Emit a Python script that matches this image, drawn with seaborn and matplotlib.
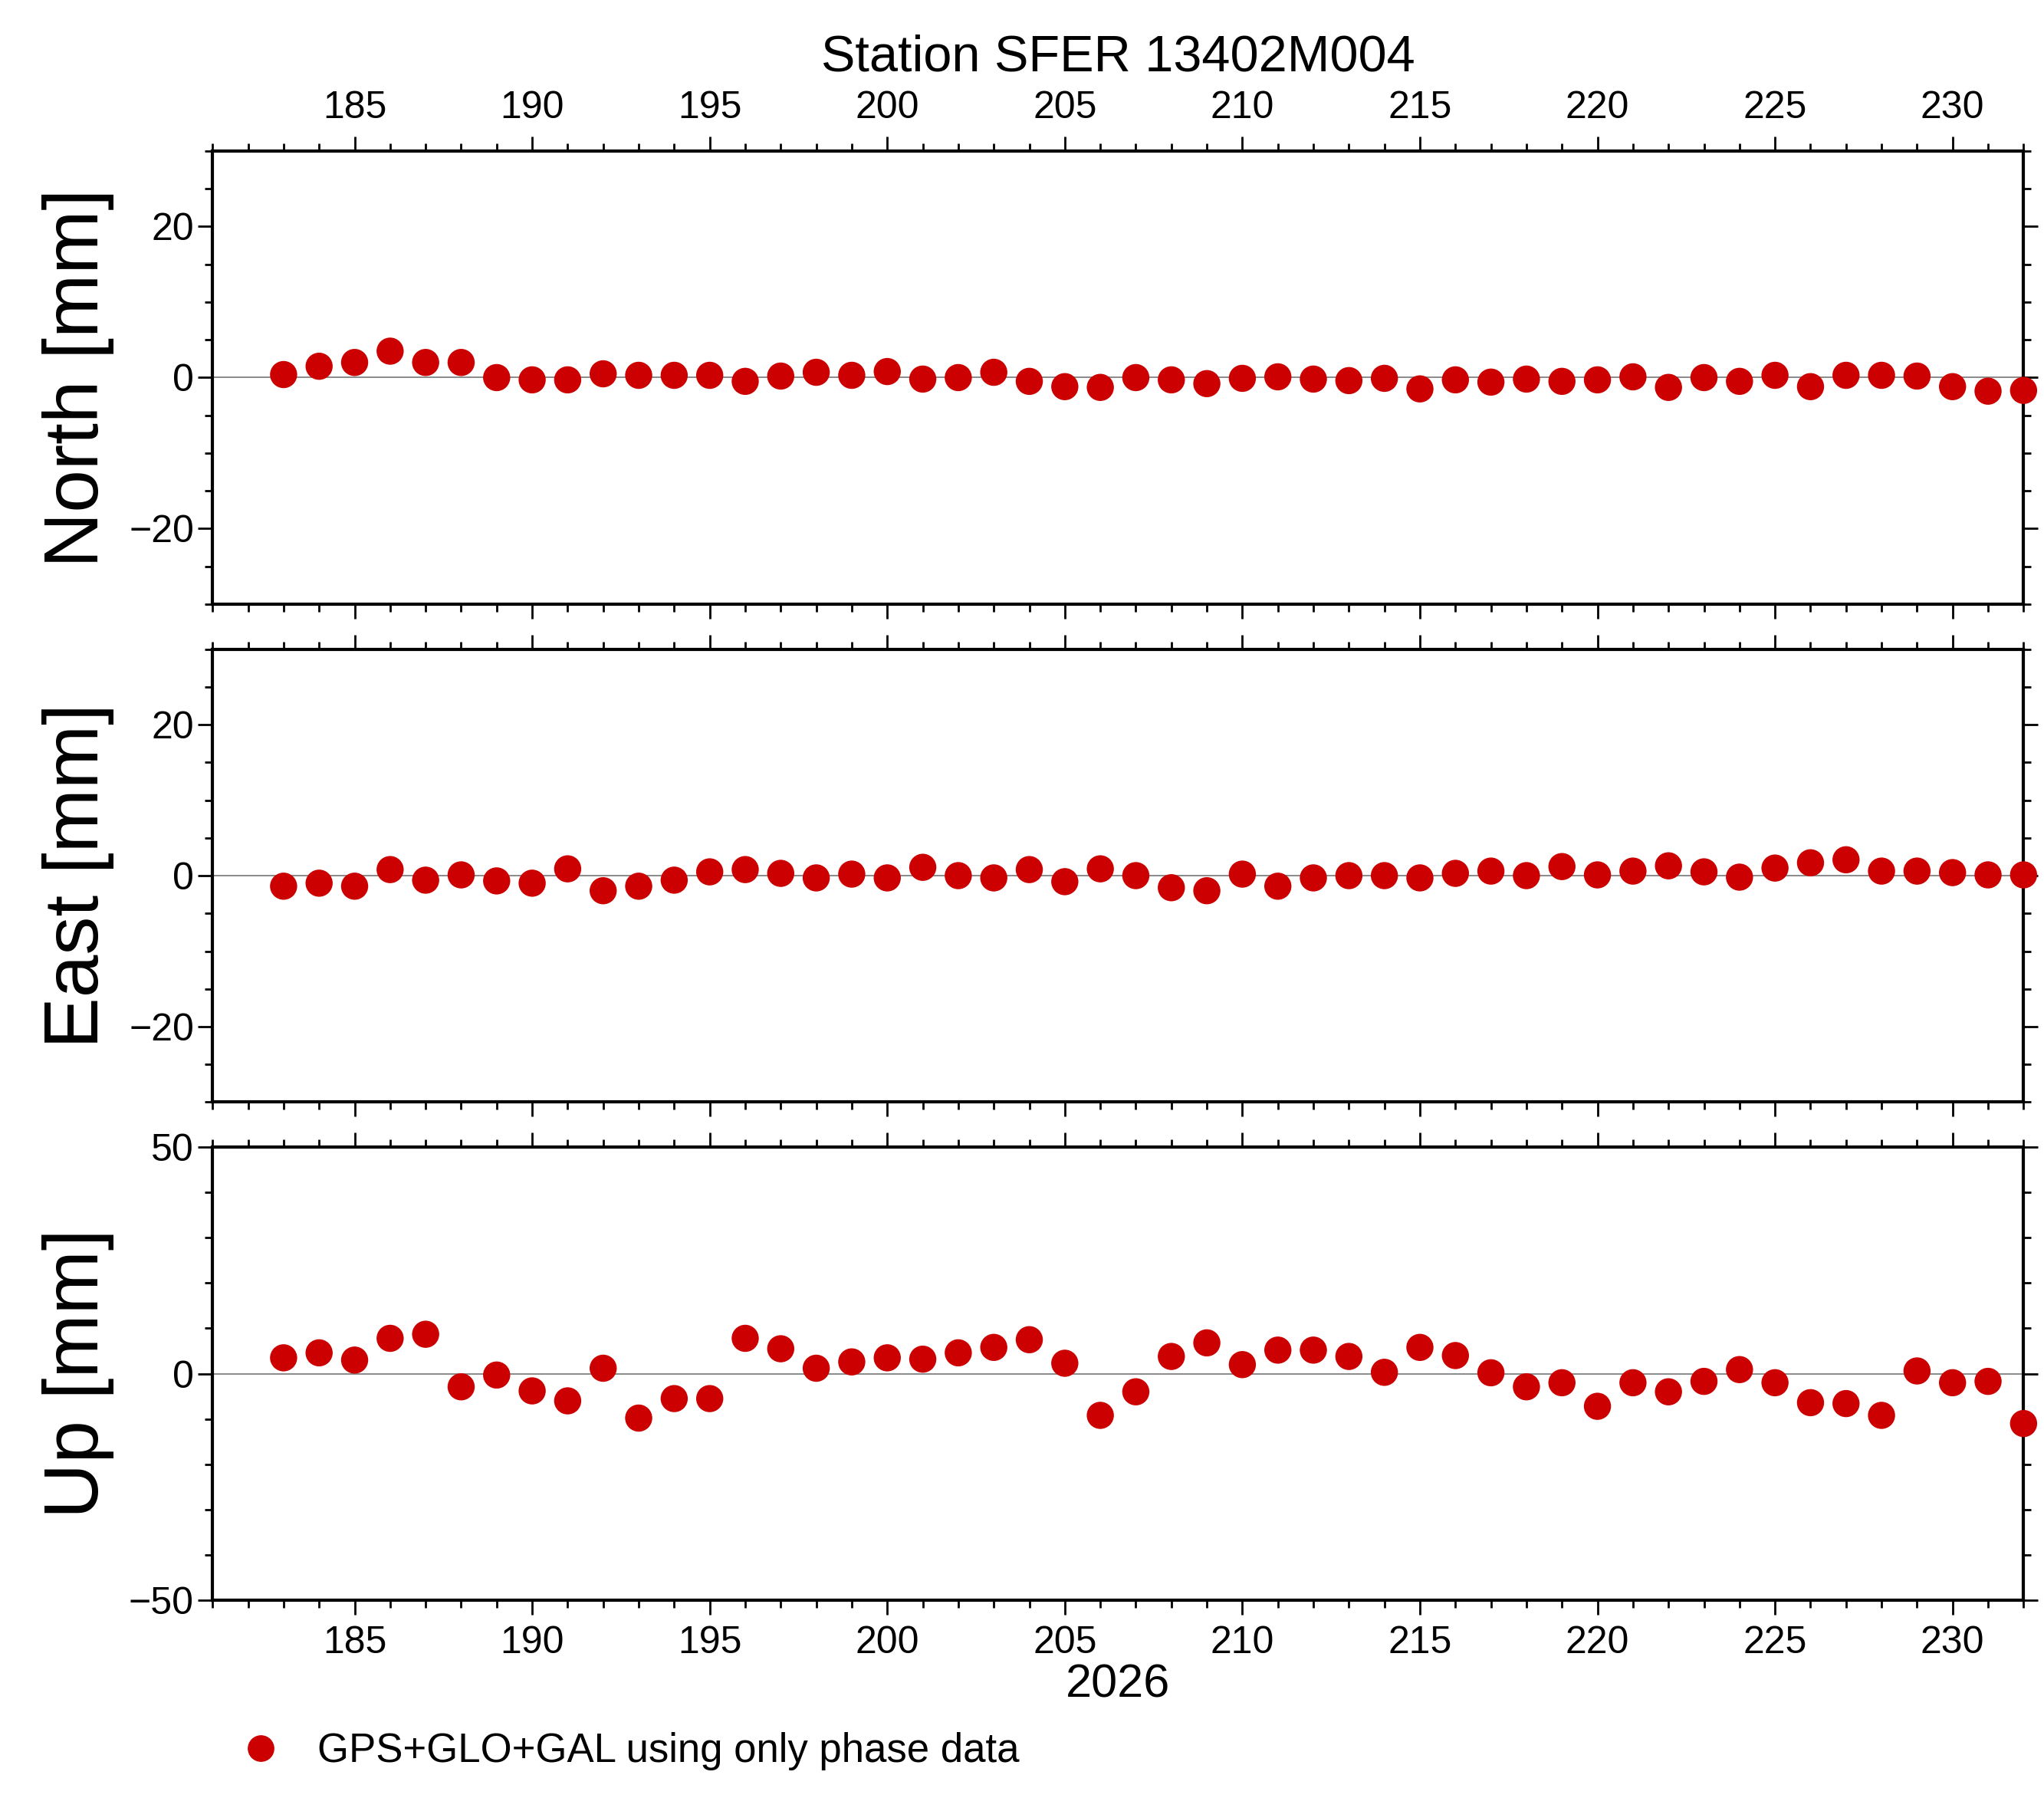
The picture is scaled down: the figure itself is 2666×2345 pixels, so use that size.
import numpy as np
import pandas as pd
import matplotlib
matplotlib.use("Agg")
import matplotlib.pyplot as plt
import seaborn as sns
from matplotlib.ticker import MultipleLocator
from matplotlib.lines import Line2D

days = list(range(183, 233))
north = [0.4, 1.5, 2, 3.5, 2, 2, 0, -0.3, -0.3, 0.5, 0.3, 0.3, 0.3, -0.5, 0.2, 0.7, 0.3, 0.8, -0.2, 0,
         0.7, -0.5, -1.2, -1.3, 0, -0.3, -0.8, -0.1, 0.1, -0.2, -0.4, -0.1, -1.5, -0.3, -0.6, -0.2, -0.5, -0.3, 0.1, -1.3,
         0, -0.5, 0.3, -1.2, 0.3, 0.3, 0.2, -1.2, -1.8, -1.7]
east = [-1.4, -1, -1.4, 0.8, -0.6, 0.1, -0.7, -1, 0.9, -2, -1.4, -0.6, 0.5, 0.8, 0.3, -0.3, 0.2, -0.3, 1.1, 0,
        -0.3, 0.8, -0.8, 0.9, 0, -1.6, -2, 0.2, -1.4, -0.3, 0, 0, -0.3, 0.3, 0.6, 0, 1.2, 0.1, 0.6, 1.3,
        0.5, -0.2, 1, 1.7, 2.1, 0.6, 0.6, 0.4, 0.1, 0.1]
up = [3.5, 4.6, 3, 7.8, 8.7, -2.9, -0.3, -3.8, -6, 1.2, -9.8, -5.5, -5.5, 7.8, 5.5, 1.2, 2.6, 3.5, 3.2, 4.6,
      5.8, 7.5, 2.3, -9.2, -4, 3.8, 6.8, 2, 5.2, 5.2, 3.8, 0.3, 5.8, 4, 0.2, -2.9, -2, -7.2, -2, -4,
      -1.7, 0.9, -2, -6.4, -6.6, -9.2, 0.6, -2, -1.7, -11]

df = pd.DataFrame({"day": days, "North": north, "East": east, "Up": up})

sns.set_theme(style="white")
plt.rcParams["font.family"] = ["Liberation Sans", "DejaVu Sans"]
plt.rcParams["text.color"] = "black"
plt.rcParams["axes.labelcolor"] = "black"
plt.rcParams["xtick.color"] = "black"
plt.rcParams["ytick.color"] = "black"
red = "#cc0000"

fig = plt.figure(figsize=(26.66, 23.45), dpi=100)
panels = [("North", 0.664, (-30, 30), 20, 5),
          ("East", 0.387, (-30, 30), 20, 5),
          ("Up", 0.110, (-50, 50), 50, 10)]
for i, (comp, bottom, ylim, major, minor) in enumerate(panels):
    ax = fig.add_axes([0.104, bottom, 0.886, 0.252])
    ax.axhline(0, color="#777777", lw=1.2, zorder=1)
    sns.scatterplot(data=df, x="day", y=comp, ax=ax, color=red, s=650,
                    edgecolor="none", zorder=3, clip_on=False)
    ax.set_xlim(181, 232)
    ax.set_ylim(*ylim)
    ax.xaxis.set_major_locator(MultipleLocator(5))
    ax.xaxis.set_minor_locator(MultipleLocator(1))
    ax.yaxis.set_major_locator(MultipleLocator(major))
    ax.yaxis.set_minor_locator(MultipleLocator(minor))
    ax.tick_params(which="both", direction="out", top=True, bottom=True, left=True, right=True,
                   labelsize=36, width=2)
    ax.tick_params(which="major", length=14)
    ax.tick_params(which="minor", length=7)
    ax.tick_params(axis="x", labeltop=(i == 0), labelbottom=(i == 2), pad=10)
    for sp in ax.spines.values():
        sp.set_linewidth(3)
        sp.set_color("black")
    ax.set_ylabel(f"{comp} [mm]", fontsize=72, labelpad=14)
    ax.set_xlabel("2026" if i == 2 else "", fontsize=44, labelpad=2)
    ax.yaxis.set_major_formatter(matplotlib.ticker.FuncFormatter(
        lambda v, p: f"{int(v)}".replace("-", "\u2212")))
    if i == 0:
        ax.set_title("Station SFER 13402M004", fontsize=48, pad=75)

handle = Line2D([], [], marker="o", ls="none", color=red, markersize=24)
fig.legend([handle], ["GPS+GLO+GAL using only phase data"], loc="lower left",
           bbox_to_anchor=(0.09, -0.005), frameon=False, fontsize=38, handletextpad=0.4)

fig.savefig("out.png", dpi=100)
